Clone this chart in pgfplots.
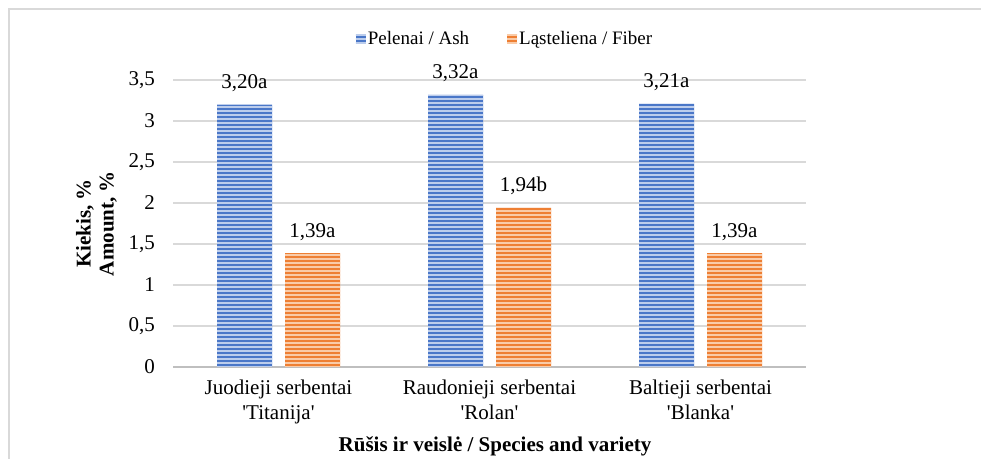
\documentclass[border=0pt]{standalone}
\usepackage{pgfplots}
\pgfplotsset{compat=1.18}
\usepackage{fontspec}
\setmainfont{Liberation Serif}
\usetikzlibrary{patterns.meta}
\definecolor{cblue}{HTML}{4A77C8}
\definecolor{cbluel}{HTML}{BCCDEC}
\definecolor{corange}{HTML}{EE7F33}
\definecolor{corangel}{HTML}{F9CBA8}
\definecolor{gridc}{HTML}{D9D9D9}
\definecolor{axisc}{HTML}{BFBFBF}
\newcommand{\sq}{\textquotesingle}
\begin{document}
\begin{tikzpicture}[font=\fontsize{15.75}{18.75}\selectfont]
\useasboundingbox (0,0) rectangle (735.75pt,344.25pt);
\draw[gridc, line width=1.1pt] (6.75pt,0) -- (6.75pt,337.5pt) -- (735.75pt,337.5pt);
\begin{axis}[
  at={(129.75pt,69pt)}, anchor=south west,
  scale only axis, width=474.75pt, height=215.25pt,
  xmin=-0.5, xmax=2.5, ymin=0, ymax=3.5,
  ybar=9.75pt, bar width=41.25pt,
  axis x line=bottom, axis y line=left,
  x axis line style={-, draw=axisc, line width=1.5pt},
  y axis line style={draw=none},
  major tick length=0pt,
  ytick={0,0.5,...,3.5},
  ymajorgrids, grid style={gridc, line width=0.8pt},
  xtick={0,1,2},
  xticklabels={{Juodieji serbentai\\\sq Titanija\sq},{Raudonieji serbentai\\\sq Rolan\sq},{Baltieji serbentai\\\sq Blanka\sq}},
  xticklabel style={align=center, yshift=-6pt},
  yticklabel style={xshift=-10pt},
  /pgf/number format/use comma,
  /pgf/number format/assume math mode=true,
  xlabel={\bfseries Rūšis ir veislė / Species and variety},
  xlabel style={at={(axis description cs:0.5087,-0.275)}, anchor=center},
  ylabel={\bfseries Kiekis, \%\\\bfseries Amount, \%},
  ylabel style={at={(axis description cs:-0.1209,0.5)}, anchor=center, rotate=0, align=center, font=\fontsize{15.75}{17.25}\selectfont},
  legend columns=2,
  legend style={draw=none, fill=none, at={(axis description cs:0.5245,1.1429)}, anchor=center,
    font=\fontsize{14.25}{16}\selectfont,
    nodes={inner sep=1.5pt},
    /tikz/every even column/.append style={column sep=27pt}},
  legend image code/.code={\fill[#1] (0pt,-3.75pt) rectangle (7.5pt,3.75pt);},
  point meta=explicit symbolic,
  nodes near coords,
  nodes near coords style={anchor=base, yshift=12pt, text=black},
]
\addplot[fill=cblue, draw=none, postaction={pattern={Lines[angle=0,distance=3pt,line width=1pt]}, pattern color=cbluel}]
  coordinates {(0,3.20) [3,20a] (1,3.32) [3,32a] (2,3.21) [3,21a]};
\addlegendentry{Pelenai / Ash}
\addplot[fill=corange, draw=none, postaction={pattern={Lines[angle=0,distance=3pt,line width=1pt]}, pattern color=corangel}]
  coordinates {(0,1.39) [1,39a] (1,1.94) [1,94b] (2,1.39) [1,39a]};
\addlegendentry{Ląsteliena / Fiber}
\end{axis}
\end{tikzpicture}
\end{document}
